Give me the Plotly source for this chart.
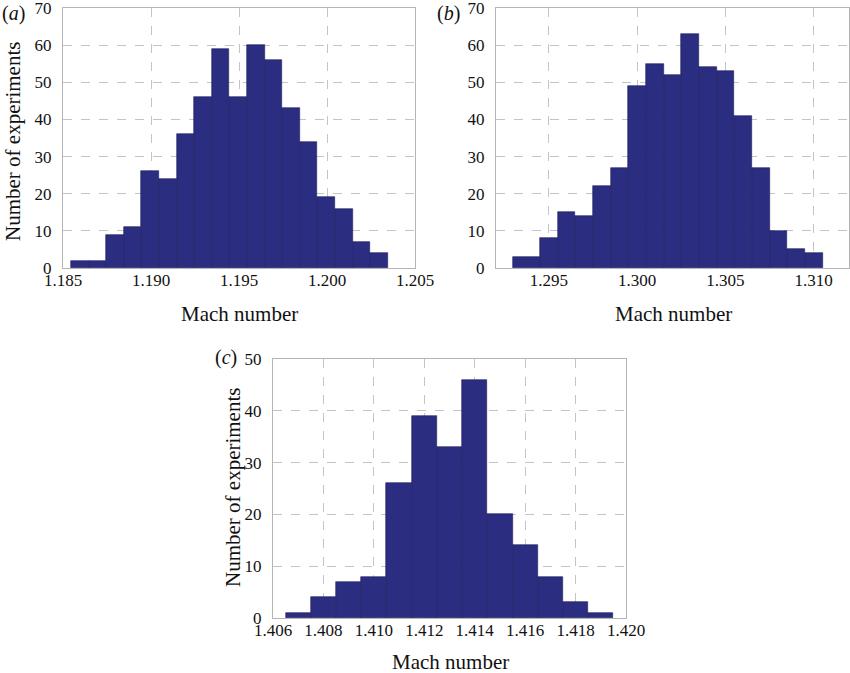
import plotly.graph_objects as go

# ---- data ----
# panel (a)
a_edge_start = 1.18545
a_bin_width = 0.001
a_counts = [2, 2, 9, 11, 26, 24, 36, 46, 59, 46, 60, 56, 43, 34, 19, 16, 7, 4]

# panel (b): first bin is wider
b_edges = [1.29296, 1.2945, 1.2955, 1.2965, 1.2975, 1.2985, 1.2995, 1.3005, 1.3015,
           1.3025, 1.3035, 1.3045, 1.3055, 1.3065, 1.3075, 1.3085, 1.3095, 1.3105]
b_counts = [3, 8, 15, 14, 22, 27, 49, 55, 52, 63, 54, 53, 41, 27, 10, 5, 4]

# panel (c)
c_edge_start = 1.4065
c_bin_width = 0.001
c_counts = [1, 4, 7, 8, 26, 39, 33, 46, 20, 14, 8, 3, 1]

a_ticks = [1.185, 1.190, 1.195, 1.200, 1.205]
b_ticks = [1.295, 1.300, 1.305, 1.310]
c_ticks = [1.406, 1.408, 1.410, 1.412, 1.414, 1.416, 1.418, 1.420]
ab_yticks = [0, 10, 20, 30, 40, 50, 60, 70]
c_yticks = [0, 10, 20, 30, 40, 50]

x_title = "Mach number"
y_title = "Number of experiments"
panel_labels = ["(<i>a</i>)", "(<i>b</i>)", "(<i>c</i>)"]

# ---- build ----
W, H = 850, 673
FONT = "Liberation Serif, Times New Roman, Times, serif"
BAR = "#2b2d80"
EDGE = "#1c1d5c"


def edges_from(start, width, n):
    return [start + i * width for i in range(n + 1)]


a_edges = edges_from(a_edge_start, a_bin_width, len(a_counts))
c_edges = edges_from(c_edge_start, c_bin_width, len(c_counts))


def bar_trace(edges, counts, xa, ya):
    centers = [(edges[i] + edges[i + 1]) / 2 for i in range(len(counts))]
    widths = [edges[i + 1] - edges[i] for i in range(len(counts))]
    return go.Bar(x=centers, y=counts, width=widths, xaxis=xa, yaxis=ya,
                  marker=dict(color=BAR, line=dict(color=EDGE, width=0.6)),
                  showlegend=False, hoverinfo="x+y")


fig = go.Figure()
fig.add_trace(bar_trace(a_edges, a_counts, "x", "y"))
fig.add_trace(bar_trace(b_edges, b_counts, "x2", "y2"))
fig.add_trace(bar_trace(c_edges, c_counts, "x3", "y3"))


def dx(px0, px1):
    return [px0 / W, px1 / W]


def dy(py_top, py_bot):
    return [1 - py_bot / H, 1 - py_top / H]


grid = dict(showgrid=True, gridcolor="#c4c4c4", griddash="dash", gridwidth=1,
            showline=True, linecolor="#b5b5b5", linewidth=1, mirror=True,
            zeroline=False, ticks="", tickfont=dict(family=FONT, size=17, color="#111"),
            fixedrange=True, automargin=False, ticklabeloverflow="allow")

axes = {}
axes["xaxis"] = dict(domain=dx(63, 415), range=[1.185, 1.205], tickvals=a_ticks,
                     ticktext=[f"{v:.3f}" for v in a_ticks], anchor="y", **grid)
axes["yaxis"] = dict(domain=dy(8, 268), range=[0, 70], tickvals=ab_yticks, anchor="x", **grid)
axes["xaxis2"] = dict(domain=dx(496, 849), range=[1.292, 1.312], tickvals=b_ticks,
                      ticktext=[f"{v:.3f}" for v in b_ticks], anchor="y2", **grid)
axes["yaxis2"] = dict(domain=dy(8, 268), range=[0, 70], tickvals=ab_yticks, anchor="x2", **grid)
axes["xaxis3"] = dict(domain=dx(273, 626), range=[1.406, 1.420], tickvals=c_ticks,
                      ticktext=[f"{v:.3f}" for v in c_ticks], anchor="y3", **grid)
axes["yaxis3"] = dict(domain=dy(359, 618), range=[0, 50], tickvals=c_yticks, anchor="x3", **grid)
for k in ["xaxis", "xaxis2", "xaxis3", "yaxis", "yaxis2", "yaxis3"]:
    axes[k]["ticklabelstandoff"] = -3 if k.startswith("x") else 7

tfont = dict(family=FONT, size=21, color="#111")
lfont = dict(family=FONT, size=20, color="#111")


def ann(text, px, py, font, angle=0):
    return dict(text=text, x=px / W, y=1 - py / H, xref="paper", yref="paper",
                showarrow=False, xanchor="center", yanchor="middle", font=font,
                textangle=angle)


annotations = [
    ann(x_title, 239, 314, tfont),
    ann(x_title, 673, 314, tfont),
    ann(x_title, 450, 662, tfont),
    ann(y_title, 13, 142, tfont, -90),
    ann(y_title, 233, 488, tfont, -90),
    ann(panel_labels[0], 13, 13, lfont),
    ann(panel_labels[1], 448, 13, lfont),
    ann(panel_labels[2], 226, 357, lfont),
]

fig.update_layout(width=W, height=H,
                  margin=dict(l=0, r=0, t=0, b=0, pad=0, autoexpand=False),
                  paper_bgcolor="white", plot_bgcolor="white", bargap=0,
                  annotations=annotations, **axes)

fig.write_html("out.html", config={"displayModeBar": False},
               post_script="document.body.style.margin='0';document.body.style.overflow='hidden';")
